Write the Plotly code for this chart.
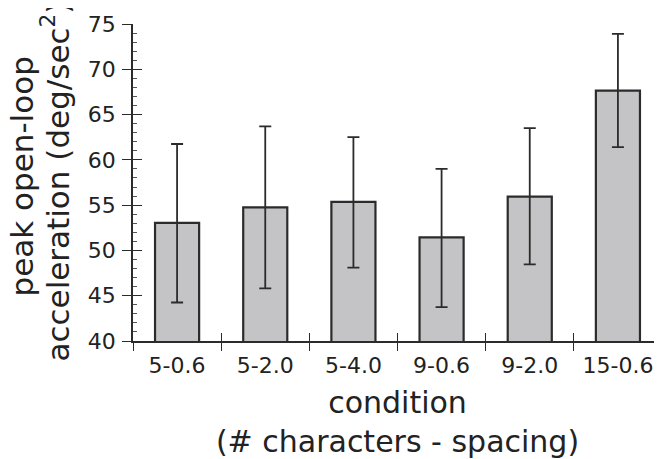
import plotly.graph_objects as go

# data
conditions = ["5-0.6", "5-2.0", "5-4.0", "9-0.6", "9-2.0", "15-0.6"]
means = [53.05, 54.75, 55.35, 51.45, 55.95, 67.65]
upper = [61.75, 63.7, 62.5, 59.0, 63.5, 73.9]
lower = [44.25, 45.8, 48.1, 43.75, 48.45, 61.4]

err_plus = [u - m for u, m in zip(upper, means)]
err_minus = [m - l for m, l in zip(means, lower)]

FONT = "DejaVu Sans, Liberation Sans, Arial, sans-serif"
INK = "#2b2b2b"

fig = go.Figure()
fig.add_trace(go.Bar(
    x=conditions, y=means,
    marker=dict(color="#c4c4c6", line=dict(color=INK, width=2.2)),
    error_y=dict(type="data", symmetric=False, array=err_plus,
                 arrayminus=err_minus, color=INK, thickness=1.8, width=6),
    showlegend=False,
))
# empty trace so the overlay axes (inner half of the crossing ticks) get drawn
fig.add_trace(go.Scatter(x=[None], y=[None], xaxis="x2", yaxis="y2",
                         mode="markers", showlegend=False, hoverinfo="skip"))

# y title as two rotated lines (tighter line spacing than a <br> title)
ytitle = ["peak open-loop", "acceleration (deg/sec<sup>2</sup>)"]
for txt, dx, dy in zip(ytitle, [-112, -78], [6, 1]):
    fig.add_annotation(text=txt, xref="paper", yref="paper", x=0, y=0.5,
                       xanchor="center", yanchor="middle", xshift=dx, yshift=dy,
                       textangle=-90, showarrow=False,
                       font=dict(size=31, family=FONT, color="#222"))

# page body adds an 8px margin, so the figure is 8px smaller than the window
fig.update_layout(
    width=654, height=451,
    margin=dict(l=125, r=0, t=16, b=118),
    plot_bgcolor="white", paper_bgcolor="white",
    font=dict(family=FONT, color="#222"),
    bargap=0.5,
    xaxis=dict(
        type="category", categoryarray=conditions, range=[-0.5, 5.5],
        tickson="boundaries", ticks="outside", ticklen=8, tickwidth=1.2,
        tickcolor=INK, showline=True, linecolor=INK, linewidth=1.5,
        showgrid=False, tickfont=dict(size=22), ticklabelstandoff=4,
        title=dict(text="condition<br>(# characters - spacing)",
                   font=dict(size=30), standoff=16),
    ),
    xaxis2=dict(
        overlaying="x", anchor="y", side="bottom", range=[-0.5, 5.5],
        tick0=0.5, dtick=1, ticks="inside", ticklen=8, tickwidth=1.2,
        tickcolor=INK, showticklabels=False, showgrid=False, zeroline=False,
    ),
    yaxis=dict(
        range=[40, 75], dtick=5, ticks="outside", ticklen=9, tickwidth=1.2,
        tickcolor=INK, showline=True, linecolor=INK, linewidth=1.5,
        showgrid=False, zeroline=False, tickfont=dict(size=22),
        ticklabelstandoff=2,
    ),
    yaxis2=dict(
        overlaying="y", anchor="x", side="left", range=[40, 75], dtick=5,
        ticks="inside", ticklen=9, tickwidth=1.2, tickcolor=INK,
        showticklabels=False, showgrid=False, zeroline=False,
        minor=dict(ticks="inside", dtick=1, ticklen=4, tickwidth=1,
                   tickcolor="#555"),
    ),
)

fig.write_html("out.html")
